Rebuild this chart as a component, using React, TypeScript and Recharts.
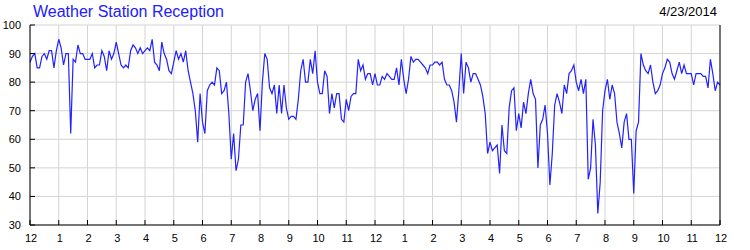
import React from 'react';
import { LineChart, Line, XAxis, YAxis, CartesianGrid } from 'recharts';

// 5-minute samples over 24 hours (index 0 = midnight)
const signal: number[] = [
  87, 89, 90, 85, 85, 89, 90, 88, 91, 91,
  85, 91, 95, 92, 86, 90, 90, 62, 88, 87,
  93, 90, 90, 88, 88, 88, 90, 85, 86, 86,
  91, 89, 84, 91, 88, 90, 94, 90, 86, 85,
  86, 85, 91, 93, 92, 90, 92, 90, 91, 92,
  91, 95, 87, 86, 84, 94, 90, 88, 84, 83,
  87, 91, 88, 90, 87, 91, 84, 80, 76, 70,
  59, 76, 66, 62, 77, 79, 80, 79, 85, 84,
  76, 77, 80, 69, 53, 62, 49, 53, 65, 65,
  80, 83, 77, 70, 74, 76, 63, 80, 90, 88,
  78, 76, 79, 69, 79, 69, 79, 71, 67, 68,
  68, 67, 74, 84, 88, 80, 80, 88, 83, 91,
  80, 76, 76, 84, 82, 69, 76, 71, 76, 76,
  67, 66, 74, 70, 75, 76, 76, 88, 84, 86,
  81, 83, 83, 79, 83, 79, 79, 82, 81, 83,
  82, 81, 81, 85, 79, 88, 81, 76, 81, 89,
  87, 88, 88, 87, 86, 85, 83, 86, 86, 87,
  87, 86, 87, 81, 79, 79, 77, 73, 66, 77,
  90, 76, 87, 85, 80, 83, 83, 81, 79, 75,
  69, 55, 59, 56, 57, 58, 48, 65, 56, 55,
  71, 77, 78, 63, 69, 64, 73, 69, 76, 81,
  76, 74, 50, 65, 67, 72, 62, 44, 55, 72,
  76, 73, 69, 79, 76, 83, 84, 86, 80, 77,
  81, 76, 81, 46, 50, 67, 58, 34, 45, 70,
  77, 81, 74, 79, 76, 66, 62, 57, 66, 69,
  60, 60, 41, 63, 66, 90, 86, 84, 83, 86,
  80, 76, 77, 79, 83, 85, 88, 87, 83, 81,
  84, 87, 83, 86, 83, 83, 83, 79, 83, 83,
  83, 82, 82, 78, 88, 83, 77, 80, 79,
];

const hourLabels: string[] = [
  '12', '1', '2', '3', '4', '5', '6', '7', '8', '9', '10', '11',
  '12', '1', '2', '3', '4', '5', '6', '7', '8', '9', '10', '11', '12',
];
const samplesPerHour = 12;
const hourTicks: number[] = hourLabels.map((_, i) => i * samplesPerHour);
const yTicks: number[] = [30, 40, 50, 60, 70, 80, 90, 100];

const title = 'Weather Station Reception';
const dateLabel = '4/23/2014';

const data = signal.map((v, i) => ({ t: i, v }));

const FONT = '"Liberation Sans", Arial, sans-serif';
const TICK_LEN = 5;

const BottomTick = (props: any) => {
  const { x, y, payload } = props;
  const label = hourLabels[Math.round(payload.value / samplesPerHour)];
  return (
    <g>
      <line x1={x} y1={y} x2={x} y2={y - TICK_LEN} stroke="#000" strokeWidth={1} />
      <text x={x + 1} y={y + 16.5} textAnchor="middle" fontSize={11} fontFamily={FONT} fill="#000">
        {label}
      </text>
    </g>
  );
};

const TopTick = (props: any) => {
  const { x, y } = props;
  return <line x1={x} y1={y} x2={x} y2={y + TICK_LEN} stroke="#000" strokeWidth={1} />;
};

const LeftTick = (props: any) => {
  const { x, y, payload } = props;
  return (
    <g>
      <line x1={x} y1={y} x2={x + TICK_LEN} y2={y} stroke="#000" strokeWidth={1} />
      <text x={x - 9} y={y + 4} textAnchor="end" fontSize={11} fontFamily={FONT} fill="#000">
        {payload.value}
      </text>
    </g>
  );
};

const RightTick = (props: any) => {
  const { x, y, payload } = props;
  return (
    <g>
      <line x1={x} y1={y} x2={x - TICK_LEN} y2={y} stroke="#000" strokeWidth={1} />
      <text x={x + 8} y={y + 4} textAnchor="start" fontSize={11} fontFamily={FONT} fill="#000">
        {payload.value}
      </text>
    </g>
  );
};

export default function App() {
  return (
    <div style={{ position: 'absolute', left: 0, top: 0, width: 750, height: 250, background: '#fff' }}>
      <div
        style={{
          position: 'absolute', left: 33, top: 4, fontFamily: FONT, fontSize: 16,
          lineHeight: '16px', color: '#2020ff', whiteSpace: 'nowrap',
        }}
      >
        {title}
      </div>
      <div
        style={{
          position: 'absolute', right: 33, top: 5, fontFamily: FONT, fontSize: 13,
          lineHeight: '13px', color: '#000', whiteSpace: 'nowrap',
        }}
      >
        {dateLabel}
      </div>
      <LineChart width={750} height={250} data={data} margin={{ top: 25, right: 0, bottom: 0, left: 0 }}>
        <CartesianGrid stroke="#d4d4d4" strokeWidth={1} />
        <XAxis
          dataKey="t"
          type="number"
          domain={[0, 288]}
          ticks={hourTicks}
          interval={0}
          height={25}
          tickSize={0}
          tickMargin={0}
          tickLine={false}
          axisLine={{ stroke: '#000', strokeWidth: 1 }}
          tick={<BottomTick />}
        />
        <XAxis
          xAxisId="top"
          orientation="top"
          dataKey="t"
          type="number"
          domain={[0, 288]}
          ticks={hourTicks}
          interval={0}
          height={0}
          tickSize={0}
          tickMargin={0}
          tickLine={false}
          axisLine={{ stroke: '#000', strokeWidth: 1 }}
          tick={<TopTick />}
        />
        <YAxis
          domain={[30, 100]}
          ticks={yTicks}
          interval={0}
          width={30}
          tickSize={0}
          tickMargin={0}
          tickLine={false}
          axisLine={{ stroke: '#000', strokeWidth: 1 }}
          tick={<LeftTick />}
        />
        <YAxis
          yAxisId="right"
          orientation="right"
          domain={[30, 100]}
          ticks={yTicks}
          interval={0}
          width={30}
          tickSize={0}
          tickMargin={0}
          tickLine={false}
          axisLine={{ stroke: '#000', strokeWidth: 1 }}
          tick={<RightTick />}
        />
        <Line
          type="linear"
          dataKey="v"
          stroke="#2222ff"
          strokeWidth={1.2}
          dot={false}
          isAnimationActive={false}
        />
      </LineChart>
    </div>
  );
}
